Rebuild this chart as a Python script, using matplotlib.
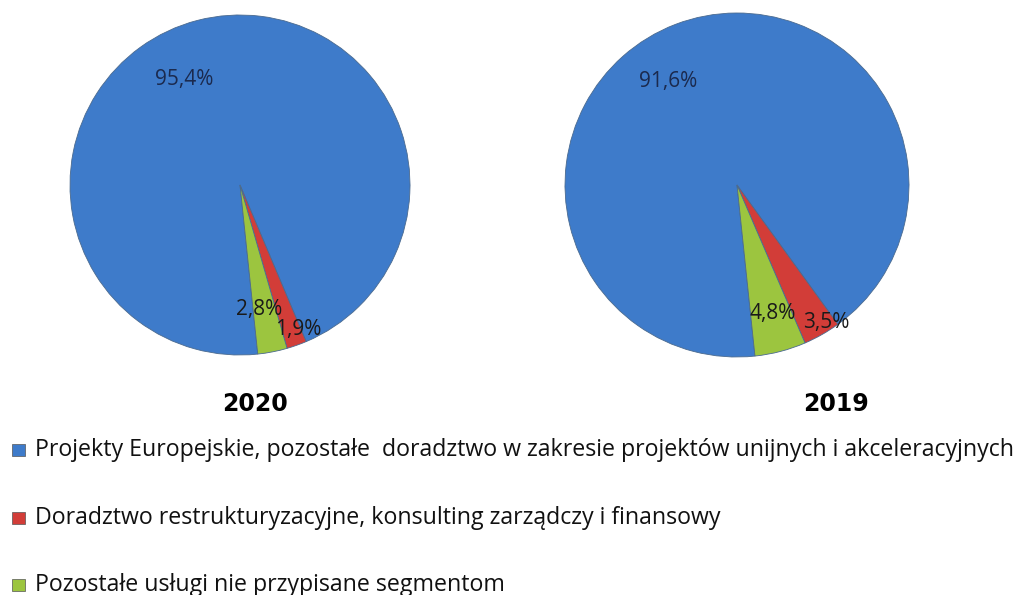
import matplotlib.pyplot as plt
from matplotlib.patches import Rectangle

plt.rcParams['font.family'] = ['Open Sans', 'DejaVu Sans']

years = ['2020', '2019']
categories = [
    'Projekty Europejskie, pozostałe  doradztwo w zakresie projektów unijnych i akceleracyjnych',
    'Doradztwo restrukturyzacyjne, konsulting zarządczy i finansowy',
    'Pozostałe usługi nie przypisane segmentom',
]
values_2020 = [95.4, 1.9, 2.8]
values_2019 = [91.6, 3.5, 4.8]
pct_labels_2020 = ['95,4%', '1,9%', '2,8%']
pct_labels_2019 = ['91,6%', '3,5%', '4,8%']

colors = ['#3e7bca', '#d23d38', '#9cc53f']
label_colors = ['#1b2a4e', '#1a1a1a', '#1a1a1a']

W, H = 1024, 595
fig = plt.figure(figsize=(W / 100, H / 100), dpi=100)

# pie boxes in pixels: (cx, cy, r), label offsets (unit radius), title x
pies = [
    (240, 185, 170, values_2020, pct_labels_2020,
     [(-0.33, 0.62), (0.34, -0.85), (0.11, -0.735)], 255),
    (737, 185, 172, values_2019, pct_labels_2019,
     [(-0.40, 0.60), (0.52, -0.80), (0.21, -0.745)], 836),
]

for year, (cx, cy, r, vals, labs, offs, tx) in zip(years, pies):
    ax = fig.add_axes([(cx - r) / W, 1 - (cy + r) / H, 2 * r / W, 2 * r / H])
    ax.pie(vals, colors=colors, startangle=276, counterclock=False,
           wedgeprops=dict(edgecolor='#4a6a8f', linewidth=0.6))
    ax.set_xlim(-1, 1)
    ax.set_ylim(-1, 1)
    ax.set_aspect('equal')
    ax.axis('off')
    for lab, (ox, oy), lc in zip(labs, offs, label_colors):
        ax.text(ox, oy, lab, ha='center', va='center', fontsize=15, color=lc)
    fig.text(tx / W, 1 - 404 / H, year, ha='center', va='center',
             fontsize=17, fontweight='bold', family='DejaVu Sans')

# legend, first row stretched to the right edge
rows_y = [450, 518, 585]
fig.canvas.draw()
renderer = fig.canvas.get_renderer()
for i, (cat, y) in enumerate(zip(categories, rows_y)):
    fig.patches.append(Rectangle((12 / W, 1 - (y + 6) / H), 13 / W, 12 / H,
                                 transform=fig.transFigure, facecolor=colors[i],
                                 edgecolor='#555555', linewidth=0.5))
    t = fig.text(35 / W, 1 - y / H, cat, ha='left', va='center', fontsize=14,
                 color='#111111')
    if i == 0:
        w = t.get_window_extent(renderer).width
        fs = 14 * (1021 - 35) / w
    t.set_fontsize(fs)

fig.savefig('out.png', dpi=100, facecolor='white')
